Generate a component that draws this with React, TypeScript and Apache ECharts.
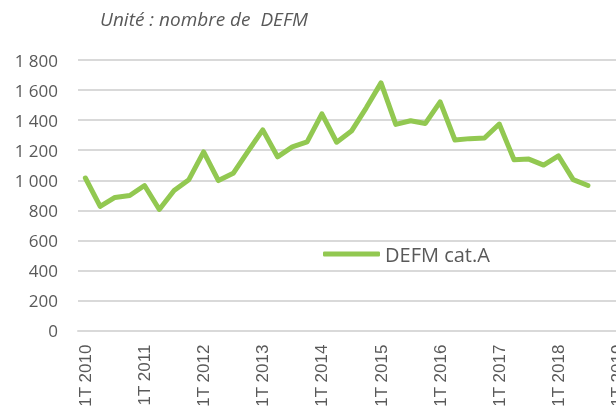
import React, { useEffect, useRef } from "react";
import * as echarts from "echarts";

const years = [2010, 2011, 2012, 2013, 2014, 2015, 2016, 2017, 2018];
const quarters = ["1T", "2T", "3T", "4T"];
const categories: string[] = [];
years.forEach((y) => quarters.forEach((q) => categories.push(`${q} ${y}`)));
categories.push("1T 2019");

const defmCatA = [
  1015, 826, 886, 899, 965, 806, 932, 1004,
  1189, 998, 1046, 1192, 1335, 1156, 1222, 1255,
  1442, 1253, 1327, 1482, 1648, 1372, 1396, 1378,
  1522, 1268, 1277, 1281, 1374, 1136, 1141, 1101,
  1163, 1004, 965,
];

const yTicks = [0, 200, 400, 600, 800, 1000, 1200, 1400, 1600, 1800];
const seriesName = "DEFM cat.A";
const unitText = "Unité : nombre de  DEFM";

const fmt = (v: number) => {
  const s = String(Math.round(v));
  return s.replace(/\B(?=(\d{3})+(?!\d))/g, " ");
};

export default function App() {
  const ref = useRef<HTMLDivElement>(null);
  useEffect(() => {
    if (!ref.current) return;
    const chart = echarts.init(ref.current, undefined, { renderer: "svg" });
    const font = "'Open Sans', 'Noto Sans', sans-serif";
    chart.setOption({
      animation: false,
      textStyle: { fontFamily: font },
      graphic: [
        {
          type: "text",
          left: 100,
          top: 9,
          style: {
            text: unitText,
            fontSize: 19,
            fontStyle: "italic",
            fill: "#595959",
            fontFamily: font,
          },
        },
      ],
      legend: {
        left: 318,
        top: 239,
        icon: "roundRect",
        itemWidth: 57,
        itemHeight: 5,
        data: [seriesName],
        textStyle: { fontSize: 20, color: "#595959", fontFamily: font },
        itemGap: 4,
      },
      grid: { left: 78, right: 0, top: 60, bottom: 76, containLabel: false },
      xAxis: {
        type: "category",
        data: categories,
        boundaryGap: true,
        axisLine: { lineStyle: { color: "#d9d9d9", width: 2 } },
        axisTick: { show: false },
        axisLabel: {
          interval: 3,
          rotate: 90,
          fontSize: 17,
          color: "#595959",
          margin: 14,
          fontFamily: "'Liberation Sans', Arial, sans-serif",
        },
      },
      yAxis: {
        type: "value",
        min: yTicks[0],
        max: yTicks[yTicks.length - 1],
        interval: 200,
        axisLine: { show: false },
        axisTick: { show: false },
        splitLine: { lineStyle: { color: "#d9d9d9", width: 2 } },
        axisLabel: {
          fontSize: 17,
          color: "#595959",
          margin: 20,
          fontFamily: font,
          formatter: (v: number) => fmt(v),
        },
      },
      series: [
        {
          name: seriesName,
          type: "line",
          data: defmCatA,
          symbol: "none",
          lineStyle: { color: "#92C851", width: 5, cap: "round", join: "round" },
          itemStyle: { color: "#92C851" },
        },
      ],
    });
    return () => chart.dispose();
  }, []);
  return (
    <div
      ref={ref}
      style={{ position: "fixed", left: 0, top: 0, width: 626, height: 410 }}
    />
  );
}
